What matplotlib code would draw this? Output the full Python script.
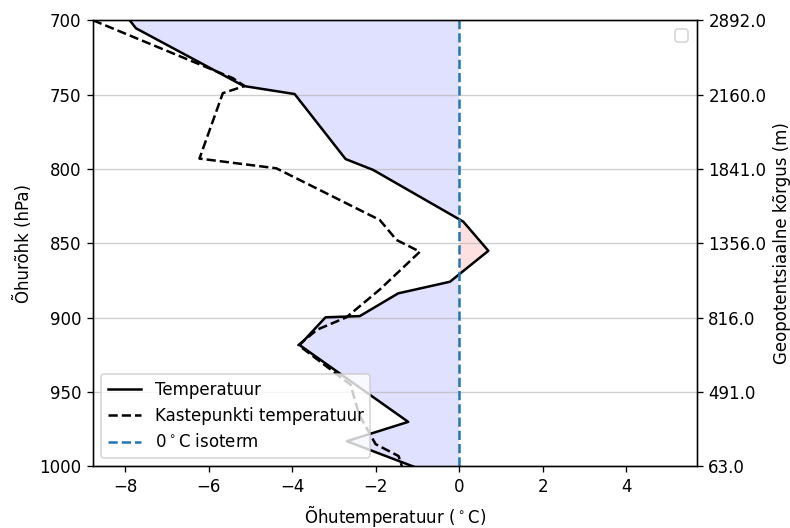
import numpy as np
import matplotlib
matplotlib.use('Agg')
import matplotlib.pyplot as plt

# Temperature sounding (hPa, degC)
temp_p = [700, 705.4, 744.2, 749.6, 793.3, 800.6, 835.4, 855, 875.8, 883.6,
          898.9, 899.7, 918.4, 970, 983, 1000]
temp_t = [-7.89, -7.74, -5.16, -3.94, -2.72, -2.06, 0.1, 0.70, -0.22, -1.46,
          -2.38, -3.2, -3.82, -1.22, -2.69, -1.1]

# Dew point sounding
dew_p = [700, 738.9, 744.2, 749.0, 793.0, 799.5, 834.3, 847.7, 855.6, 881,
         899.7, 908, 918.4, 945, 965, 985, 993, 1000]
dew_t = [-8.77, -5.42, -5.14, -5.66, -6.22, -4.38, -1.9, -1.5, -0.94, -1.9,
         -2.7, -3.4, -3.85, -2.6, -2.4, -2.0, -1.45, -1.37]

# Standard levels and their geopotential heights
levels = [700, 750, 800, 850, 900, 950, 1000]
heights = [2892.0, 2160.0, 1841.0, 1356.0, 816.0, 491.0, 63.0]

p = np.array(temp_p)
t = np.array(temp_t)

fig, ax = plt.subplots(figsize=(790 / 120, 528 / 120), dpi=120)
fig.subplots_adjust(left=0.1177, right=0.8819, top=0.9616, bottom=0.1165)

ax.fill_betweenx(p, t, 0, where=t <= 0, interpolate=True, color='blue', alpha=0.12, linewidth=0)
ax.fill_betweenx(p, t, 0, where=t >= 0, interpolate=True, color='red', alpha=0.12, linewidth=0)

ax.plot(temp_t, temp_p, color='black', label='Temperatuur')
ax.plot(dew_t, dew_p, color='black', linestyle='--', label='Kastepunkti temperatuur')
ax.axvline(0, color='tab:blue', linestyle='--', label='0$^\\circ$C isoterm')

ax.set_xlim(-8.77, 5.69)
ax.set_ylim(1000, 700)
ax.set_yticks(levels)
ax.grid(axis='y', alpha=0.6)
ax.set_xlabel('Õhutemperatuur ($^\\circ$C)')
ax.set_ylabel('Õhurõhk (hPa)')
ax.legend(loc='lower left')

ax2 = ax.twinx()
ax2.set_ylim(ax.get_ylim())
ax2.set_yticks(levels)
ax2.set_yticklabels(['{:.1f}'.format(h) for h in heights])
ax2.set_ylabel('Geopotentsiaalne kõrgus (m)')
ax2.legend(loc='upper right')

fig.savefig('out.png', dpi=120)
